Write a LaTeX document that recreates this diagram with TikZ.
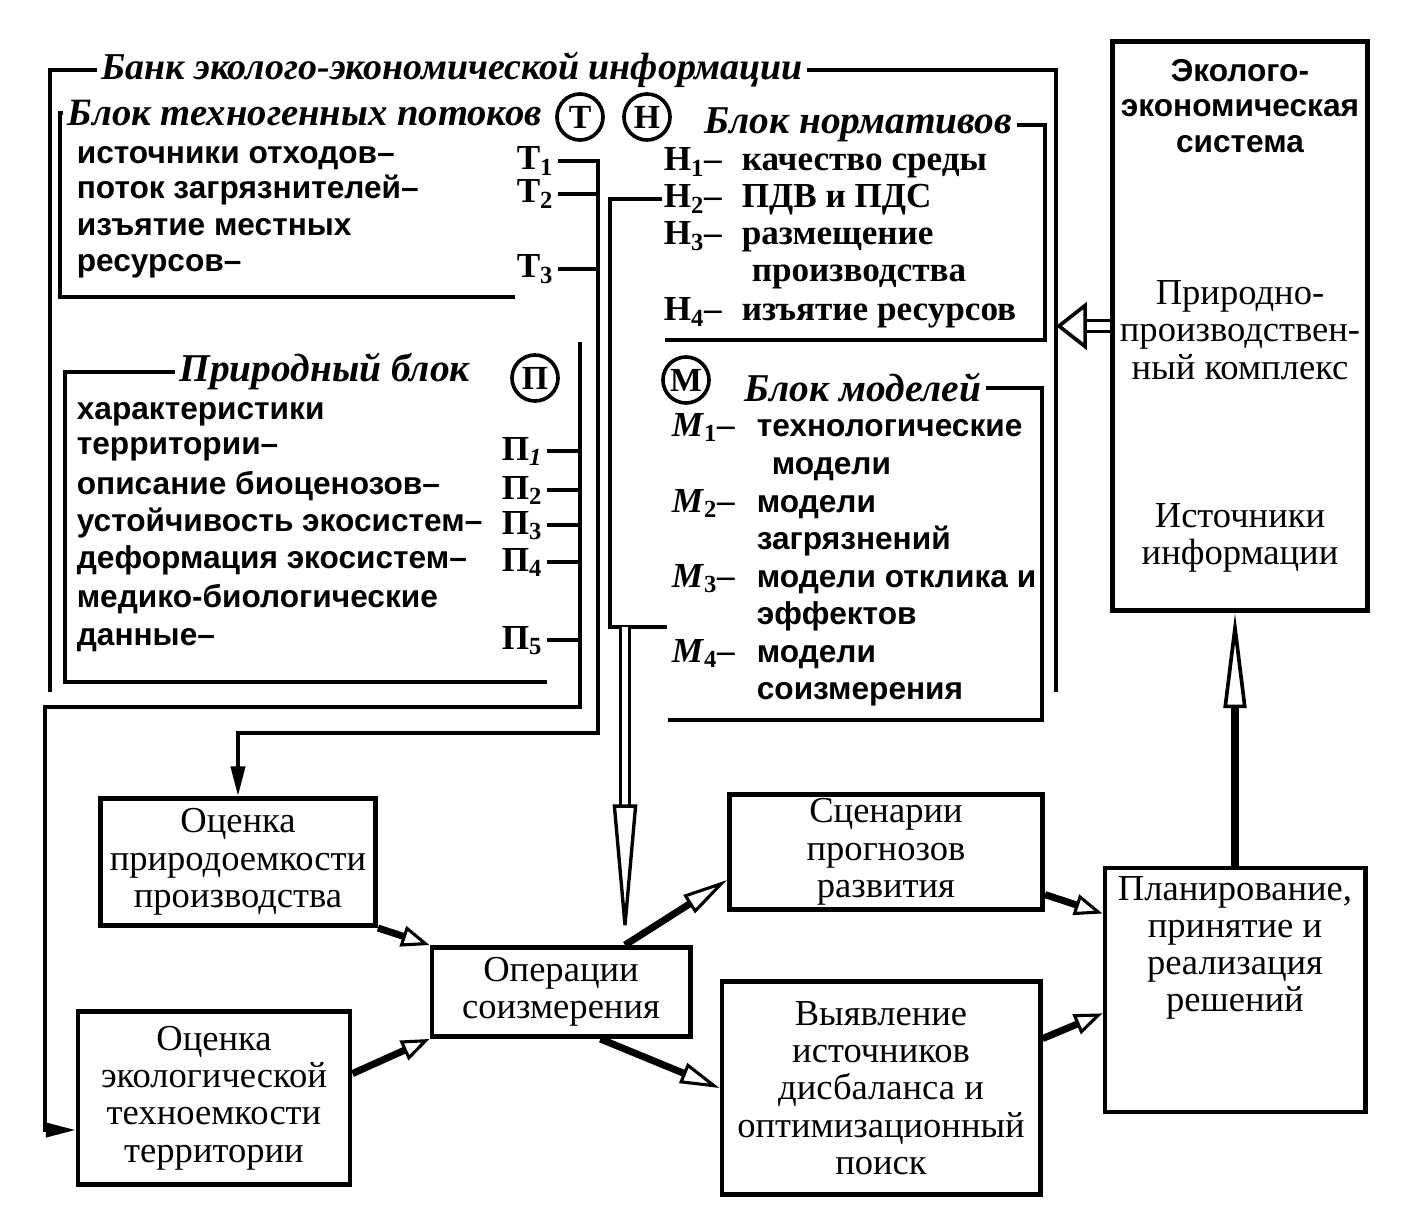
\documentclass[tikz,border=0pt]{standalone}
\usepackage{fontspec}
\setmainfont{Liberation Serif}
\setsansfont{Liberation Sans}
\usetikzlibrary{arrows.meta}

\begin{document}
\begin{tikzpicture}[x=0.025cm, y=-0.025cm, line width=2.6pt]

\tikzstyle{every node} = [inner sep=0pt]
\tikzstyle{item} = [anchor=base west, font=\sffamily\bfseries\fontsize{22.5}{24}\selectfont]
\tikzstyle{norm} = [anchor=base west, font=\bfseries\fontsize{25}{27}\selectfont]
\tikzstyle{idx} = [anchor=base, inner sep=2pt, font=\bfseries\fontsize{25}{27}\selectfont]
\tikzstyle{blocktitle} = [inner sep=2pt, font=\bfseries\itshape\fontsize{28}{30}\selectfont]
\tikzstyle{letter} = [circle, draw, minimum size=1.15cm, font=\bfseries\fontsize{24}{24}\selectfont]
\tikzstyle{box} = [rectangle, draw, line width=3.5pt, align=center, font=\fontsize{26}{26.5}\selectfont]
\tikzstyle{txt} = [align=center, font=\fontsize{26}{26.5}\selectfont]
\tikzstyle{feed} = [-{Triangle[length=21pt, width=10pt]}]
\tikzstyle{hollow} = [line width=5pt, -{Triangle[open, line width=2.2pt, length=20pt, width=15pt]}]
\tikzstyle{twin} = [line width=2.4pt, double distance=4pt]

\useasboundingbox (0,0) rectangle (1402,1221);

\node[blocktitle, font=\bfseries\itshape\fontsize{27}{29}\selectfont] (bk) at (452,70) {Банк эколого-экономической информации};
\coordinate (bkl) at (50,692);
\coordinate (bkr) at (1056,692);
\draw[-] (bkl) |- (bk.west);
\draw[-] (bk.east) -| (bkr);

\node[blocktitle, anchor=west, font=\bfseries\itshape\fontsize{27.5}{30}\selectfont] (tt) at (63,113) {Блок техногенных потоков};
\node[letter] (ct) at (580,117) {Т};
\node[letter] (ch) at (647,117) {Н};
\node[item] (ta) at (75,164) {источники отходов–};
\node[item] (tb) at (75,199) {поток загрязнителей–};
\node[item] (tc) at (75,236) {изъятие местных};
\node[item] (td) at (75,272) {ресурсов–};
\node[idx] (t1) at (535,170) {Т\textsubscript{1}};
\node[idx] (t2) at (535,203) {Т\textsubscript{2}};
\node[idx] (t3) at (535,278) {Т\textsubscript{3}};
\coordinate (tfl) at (60,297);
\coordinate (tfr) at (515,297);
\coordinate (tcol) at (598,733);
\draw[-] (tfr) -- (tfl) |- (tt.west);
\draw[-] (t2.east) -- (t2.east -| tcol);
\draw[-] (t3.east) -- (t3.east -| tcol);

\node[blocktitle, anchor=west] (pt) at (175,372) {Природный блок};
\node[letter] (cp) at (535,378) {П};
\node[item] (pa) at (75,419) {характеристики};
\node[item] (pb) at (75,454) {территории–};
\node[item] (pc) at (75,494) {описание биоценозов–};
\node[item] (pd) at (75,531) {устойчивость экосистем–};
\node[item] (pe) at (75,568) {деформация экосистем–};
\node[item] (pf) at (75,607) {медико-биологические};
\node[item] (pg) at (75,645) {данные–};
\node[idx] (p1) at (522,460) {П\textsubscript{\itshape 1}};
\node[idx] (p2) at (522,499) {П\textsubscript{2}};
\node[idx] (p3) at (522,534) {П\textsubscript{3}};
\node[idx] (p4) at (522,571) {П\textsubscript{4}};
\node[idx] (p5) at (522,649) {П\textsubscript{5}};
\coordinate (pfl) at (65,682);
\coordinate (pfr) at (547,682);
\coordinate (ptop) at (580,342);
\coordinate (pcol) at (580,707);
\coordinate (pleft) at (45,1130);
\draw[-] (pfr) -- (pfl) |- (pt.west);
\draw[-] (p1.east) -- (p1.east -| pcol);
\draw[-] (p2.east) -- (p2.east -| pcol);
\draw[-] (p3.east) -- (p3.east -| pcol);
\draw[-] (p4.east) -- (p4.east -| pcol);
\draw[-] (p5.east) -- (p5.east -| pcol);

\node[blocktitle, anchor=west] (ht) at (700,125) {Блок нормативов};
\node[norm] (h1) at (662,171) {Н\textsubscript{1}–};
\node[norm] (h2) at (662,208) {Н\textsubscript{2}–};
\node[norm] (h3) at (662,245) {Н\textsubscript{3}–};
\node[norm] (h4) at (662,321) {Н\textsubscript{4}–};
\node[norm] (ha) at (740,171) {качество среды};
\node[norm] (hb) at (740,208) {ПДВ и ПДС};
\node[norm] (hc) at (740,245) {размещение};
\node[norm] (hd) at (750,282) {производства};
\node[norm] (he) at (740,321) {изъятие ресурсов};
\coordinate (hfl) at (665,340);
\coordinate (hfr) at (1045,340);
\coordinate (hbl) at (610,627);
\coordinate (hbr) at (667,627);
\draw[-] (ht.east) -| (hfr) -- (hfl);
\draw[-] (h2.west) -| (hbl) -- (hbr);

\node[letter] (cm) at (686,380) {М};
\node[blocktitle, anchor=west] (mt) at (740,388) {Блок моделей};
\node[norm] (m1) at (670,436) {\textit{М}\textsubscript{1}–};
\node[norm] (m2) at (670,512) {\textit{М}\textsubscript{2}–};
\node[norm] (m3) at (670,587) {\textit{М}\textsubscript{3}–};
\node[norm] (m4) at (670,662) {\textit{М}\textsubscript{4}–};
\node[item] (ma) at (755,436) {технологические};
\node[item] (mb) at (770,474) {модели};
\node[item] (mc) at (755,512) {модели};
\node[item] (md) at (755,549) {загрязнений};
\node[item] (me) at (755,587) {модели отклика и};
\node[item] (mf) at (755,624) {эффектов};
\node[item] (mg) at (755,662) {модели};
\node[item] (mh) at (755,699) {соизмерения};
\coordinate (mfl) at (668,720);
\coordinate (mfr) at (1042,720);
\draw[-] (mt.east) -| (mfr) -- (mfl);

\node[box, minimum width=6.375cm, minimum height=14.2cm] (ees) at (1240,326) {};
\node[txt, font=\sffamily\bfseries\fontsize{22.5}{25.5}\selectfont] (e1) at (1240,106) {Эколого-\\экономическая\\система};
\node[txt] (e2) at (1240,330) {Природно-\\производствен-\\ный комплекс};
\node[txt] (e3) at (1240,538) {Источники\\информации};

\node[box, minimum width=6.875cm, minimum height=3.175cm] (o1) at (238,862) {Оценка\\природоемкости\\производства};
\node[box, minimum width=6.8cm, minimum height=4.325cm] (o2) at (214,1098) {Оценка\\экологической\\техноемкости\\территории};
\node[box, minimum width=6.45cm, minimum height=2.225cm] (ops) at (561,992) {Операции\\соизмерения};
\node[box, minimum width=7.825cm, minimum height=2.875cm] (sc) at (886,852) {Сценарии\\прогнозов\\развития};
\node[box, minimum width=7.95cm, minimum height=5.325cm] (vy) at (881,1088) {Выявление\\источников\\дисбаланса и\\оптимизационный\\поиск};
\node[box, minimum width=6.5cm, minimum height=6.1cm] (pl) at (1235,990) {};
\node[txt] (plt) at (1235,948) {Планирование,\\принятие и\\реализация\\решений};

\coordinate (dtop) at (625,627);

\draw[feed] (t1.east) -- (t1.east -| tcol) -- (tcol) -| (o1.north);
\draw[feed] (ptop) -- (pcol) -| (pleft) -- (pleft -| o2.west);

\draw[twin, -{Triangle[open, line width=2.4pt, length=100pt, width=17pt]}] (dtop) -- (dtop |- ops.north);
\draw[twin, double distance=5pt, -{Triangle[open, line width=2.6pt, length=22pt, width=34pt]}] (ees.west) -- (ees.west -| bkr);
\draw[line width=5pt, -{Triangle[open, line width=2.6pt, length=68pt, width=16pt]}] (pl.north) -- (pl.north |- ees.south);

\draw[hollow] (o1.south east) -- (ops.north west);
\draw[hollow] (o2.10) -- (ops.south west);
\draw[hollow, -{Triangle[open, line width=2.2pt, length=32pt, width=15pt]}] (ops.north -| dtop) -- (sc.190);
\draw[hollow, -{Triangle[open, line width=2.2pt, length=28pt, width=15pt]}] (ops.-50) -- (vy.west);
\draw[hollow] (sc.-15) -- (pl.150);
\draw[hollow] (vy.17) -- (pl.190);

\end{tikzpicture}
\end{document}
